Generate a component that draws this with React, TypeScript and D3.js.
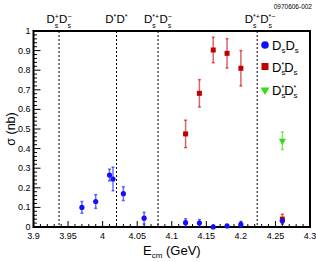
import React from "react";
import * as d3 from "d3";

const dsdsE = [3.97, 3.99, 4.01, 4.015, 4.03, 4.06, 4.12, 4.14, 4.16, 4.18, 4.2, 4.26];
const dsdsS = [0.1, 0.13, 0.265, 0.245, 0.17, 0.045, 0.022, 0.02, 0.0, 0.005, 0.013, 0.032];
const dsdsErr = [0.03, 0.035, 0.03, 0.06, 0.035, 0.03, 0.02, 0.018, 0.01, 0.01, 0.015, 0.015];

const dsstE = [4.12, 4.14, 4.16, 4.18, 4.2, 4.26];
const dsstS = [0.475, 0.682, 0.903, 0.886, 0.81, 0.04];
const dsstErr = [0.07, 0.07, 0.065, 0.075, 0.09, 0.025];

const dsststE = [4.26];
const dsststS = [0.44];
const dsststErr = [0.045];

const thresholds = [3.937, 4.0201, 4.0802, 4.2236];

const xTickLabels = ["3.9", "3.95", "4", "4.05", "4.1", "4.15", "4.2", "4.25", "4.3"];
const yTickLabels = ["0", "0.1", "0.2", "0.3", "0.4", "0.5", "0.6", "0.7", "0.8", "0.9", "1"];

const W = 316;
const H = 262;
const L = 33.5, R = 310, T = 31, B = 227;
const FONT = "'Liberation Sans', Arial, Helvetica, sans-serif";

const BLUE = "#1010ff";
const RED = "#c00000";
const GREEN = "#33dd11";

type Part = { base: string; sup: string; sub: string };

const charW = (s: string, fs: number) => {
  let w = 0;
  for (const c of s) {
    if (c === "D") w += 0.722;
    else if (c === "*") w += 0.389;
    else if (c === "+" || c === "−") w += 0.584;
    else if (c === "s") w += 0.5;
    else w += 0.556;
  }
  return w * fs;
};

function ThresholdLabel({ cx, parts }: { cx: number; parts: Part[] }) {
  const FS = 11.5, SFS = 7;
  const widths = parts.map((p) => charW(p.base, FS) + Math.max(charW(p.sup, SFS), charW(p.sub, SFS)) + 0.3);
  const total = widths.reduce((a, b) => a + b, 0);
  let cur = cx - total / 2;
  const out: React.ReactNode[] = [];
  parts.forEach((p, i) => {
    const bw = charW(p.base, FS);
    out.push(<text key={"b" + i} x={cur} y={23} fontFamily={FONT} fontSize={FS} fill="#000">{p.base}</text>);
    if (p.sup) out.push(<text key={"p" + i} x={cur + bw} y={18.5} fontFamily={FONT} fontSize={SFS} fill="#000">{p.sup}</text>);
    if (p.sub) out.push(<text key={"s" + i} x={cur + bw} y={27.5} fontFamily={FONT} fontSize={SFS} fill="#000">{p.sub}</text>);
    cur += widths[i];
  });
  return <g>{out}</g>;
}

export default function App() {
  const x = d3.scaleLinear().domain([3.9, 4.3]).range([L, R]);
  const y = d3.scaleLinear().domain([0, 1]).range([B, T]);

  const xMinor = d3.range(0, 41).map((i) => 3.9 + i * 0.01);
  const yMinor = d3.range(0, 51).map((i) => i * 0.02);

  const errBar = (xs: number[], ys: number[], es: number[], color: string, key: string) =>
    xs.map((xv, i) => {
      const lo = y(Math.max(0, ys[i] - es[i]));
      const hi = y(ys[i] + es[i]);
      return (
        <g key={key + i} stroke={color} strokeOpacity={0.6} strokeWidth={1.5}>
          <line x1={x(xv)} x2={x(xv)} y1={lo} y2={hi} />
          <line x1={x(xv) - 1.5} x2={x(xv) + 1.5} y1={hi} y2={hi} />
          <line x1={x(xv) - 1.5} x2={x(xv) + 1.5} y1={lo} y2={lo} />
        </g>
      );
    });

  const tri = d3.symbol().type(d3.symbolTriangle).size(22)() as string;
  const triL = d3.symbol().type(d3.symbolTriangle).size(34)() as string;

  return (
    <svg width={W} height={H} style={{ position: "absolute", left: 0, top: 0, background: "#fff" }}>
      <rect x={0} y={0} width={W} height={H} fill="#fff" />
      {thresholds.map((t, i) => (
        <line key={"th" + i} x1={x(t)} x2={x(t)} y1={T} y2={B} stroke="#000" strokeWidth={1} strokeDasharray="2,2" />
      ))}
      {xMinor.map((v, i) => {
        const major = i % 5 === 0;
        return <line key={"xm" + i} x1={x(v)} x2={x(v)} y1={B} y2={B - (major ? 6 : 3)} stroke="#000" strokeWidth={1} />;
      })}
      {yMinor.map((v, i) => {
        const major = i % 5 === 0;
        return <line key={"ym" + i} x1={L} x2={L + (major ? 7 : 3.5)} y1={y(v)} y2={y(v)} stroke="#000" strokeWidth={1} />;
      })}
      {xTickLabels.map((s, i) => (
        <text key={"xl" + i} x={x(+s)} y={B + 12} textAnchor="middle" fontFamily={FONT} fontSize={9} fill="#000">{s}</text>
      ))}
      {yTickLabels.map((s, i) => (
        <text key={"yl" + i} x={L - 3} y={y(+s) + 3} textAnchor="end" fontFamily={FONT} fontSize={9} fill="#000">{s}</text>
      ))}
      <rect x={L} y={T} width={R - L} height={B - T} fill="none" stroke="#000" strokeWidth={2} />

      {errBar(dsdsE, dsdsS, dsdsErr, BLUE, "be")}
      {errBar(dsstE, dsstS, dsstErr, RED, "re")}
      {errBar(dsststE, dsststS, dsststErr, GREEN, "ge")}
      {dsstE.map((xv, i) => (
        <rect key={"rs" + i} x={x(xv) - 2.5} y={y(dsstS[i]) - 2.5} width={5} height={5} fill={RED} />
      ))}
      {dsdsE.map((xv, i) => (
        <circle key={"bc" + i} cx={x(xv)} cy={y(dsdsS[i])} r={2.6} fill={BLUE} />
      ))}
      {dsststE.map((xv, i) => (
        <path key={"gt" + i} d={tri} transform={`translate(${x(xv)},${y(dsststS[i])}) rotate(180)`} fill={GREEN} />
      ))}

      <ThresholdLabel cx={x(thresholds[0])} parts={[{ base: "D", sup: "+", sub: "s" }, { base: "D", sup: "−", sub: "s" }]} />
      <ThresholdLabel cx={x(thresholds[1])} parts={[{ base: "D", sup: "*", sub: "" }, { base: "D", sup: "*", sub: "" }]} />
      <ThresholdLabel cx={x(thresholds[2])} parts={[{ base: "D", sup: "*+", sub: "s" }, { base: "D", sup: "−", sub: "s" }]} />
      <ThresholdLabel cx={x(thresholds[3]) + 3} parts={[{ base: "D", sup: "*+", sub: "s" }, { base: "D", sup: "*−", sub: "s" }]} />

      <text x={312} y={9} textAnchor="end" fontFamily={FONT} fontSize={6.5} fill="#000">0970606-002</text>

      <circle cx={265} cy={45} r={3.8} fill={BLUE} />
      <text x={272} y={50} fontFamily={FONT} fontSize={13} fill="#000">
        D<tspan fontSize={8} dy={3}>s</tspan><tspan dy={-3}>D</tspan><tspan fontSize={8} dy={3}>s</tspan>
      </text>
      <rect x={261.5} y={63} width={7} height={7} fill={RED} />
      <text x={272} y={72} fontFamily={FONT} fontSize={13} fill="#000">
        D<tspan fontSize={8} dy={3}>s</tspan><tspan fontSize={7} dx={-4} dy={-8}>*</tspan><tspan dy={5}>D</tspan><tspan fontSize={8} dy={3}>s</tspan>
      </text>
      <path d={triL} transform="translate(265,90) rotate(180)" fill={GREEN} />
      <text x={272} y={95} fontFamily={FONT} fontSize={13} fill="#000">
        D<tspan fontSize={8} dy={3}>s</tspan><tspan fontSize={7} dx={-4} dy={-8}>*</tspan><tspan dy={5}>D</tspan><tspan fontSize={8} dy={3}>s</tspan><tspan fontSize={7} dx={-4} dy={-8}>*</tspan>
      </text>

      <text transform={`translate(15,${(T + B) / 2}) rotate(-90)`} textAnchor="middle" fontFamily={FONT} fontSize={12.5} fill="#000">σ (nb)</text>
      <text x={143} y={255} fontFamily={FONT} fontSize={13} fill="#000">
        E<tspan fontSize={8} dy={3}>cm</tspan><tspan dy={-3}> (GeV)</tspan>
      </text>
    </svg>
  );
}
